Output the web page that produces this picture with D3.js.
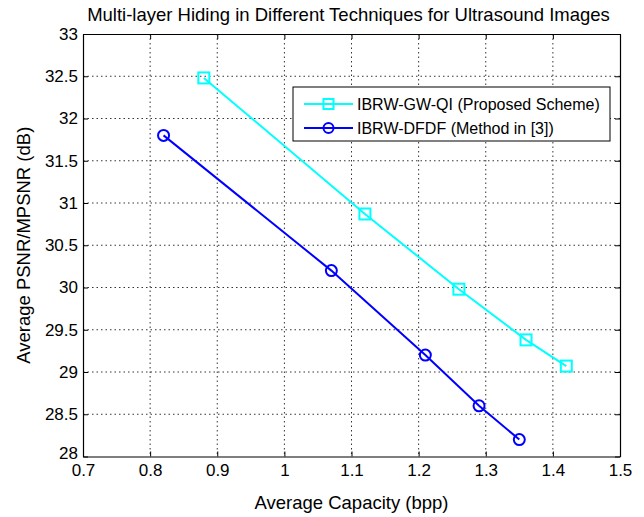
<!DOCTYPE html>
<html>
<head>
<meta charset="utf-8">
<script src="https://cdn.jsdelivr.net/npm/d3@7"></script>
<style>
  body { margin: 0; background: #fff; }
  text { font-family: "Liberation Sans", Arial, sans-serif; }
</style>
</head>
<body>
<div id="chart"></div>
<script>
var proposedX = [0.88, 1.12, 1.26, 1.36, 1.42];
var proposedY = [32.48, 30.87, 29.98, 29.38, 29.07];
var methodX = [0.82, 1.07, 1.21, 1.29, 1.35];
var methodY = [31.8, 30.2, 29.2, 28.6, 28.2];
var xTicks = [0.7, 0.8, 0.9, 1, 1.1, 1.2, 1.3, 1.4, 1.5];
var yTicks = [28, 28.5, 29, 29.5, 30, 30.5, 31, 31.5, 32, 32.5, 33];
var seriesNames = ["IBRW-GW-QI (Proposed Scheme)", "IBRW-DFDF (Method in [3])"];

var W = 644, H = 517;
var pLeft = 83, pRight = 620, pTop = 34, pBottom = 456.5;

var svg = d3.select("#chart").append("svg")
    .attr("width", W)
    .attr("height", H);

var x = d3.scaleLinear().domain([0.7, 1.5]).range([pLeft, pRight]);
var y = d3.scaleLinear().domain([28, 33]).range([pBottom, pTop]);

// dotted grid
svg.append("g").selectAll("line").data(xTicks.slice(1, -1)).enter().append("line")
    .attr("x1", function(d) { return x(d); })
    .attr("x2", function(d) { return x(d); })
    .attr("y1", pTop).attr("y2", pBottom)
    .attr("stroke", "#000").attr("stroke-width", 0.8)
    .attr("stroke-dasharray", "1.5,3");
svg.append("g").selectAll("line").data(yTicks.slice(1, -1)).enter().append("line")
    .attr("y1", function(d) { return y(d); })
    .attr("y2", function(d) { return y(d); })
    .attr("x1", pLeft).attr("x2", pRight)
    .attr("stroke", "#000").attr("stroke-width", 0.8)
    .attr("stroke-dasharray", "1.5,3");

var fmt = function(d) { return String(d); };

var xAxis = svg.append("g")
    .attr("transform", "translate(0," + pBottom + ")")
    .call(d3.axisBottom(x).tickValues(xTicks).tickFormat(fmt).tickSizeInner(-5).tickSizeOuter(0).tickPadding(7));
var xAxisTop = svg.append("g")
    .attr("transform", "translate(0," + pTop + ")")
    .call(d3.axisTop(x).tickValues(xTicks).tickFormat("").tickSizeInner(-5).tickSizeOuter(0));
var yAxis = svg.append("g")
    .attr("transform", "translate(" + pLeft + ",0)")
    .call(d3.axisLeft(y).tickValues(yTicks).tickFormat(fmt).tickSizeInner(-5).tickSizeOuter(0).tickPadding(5));
var yAxisRight = svg.append("g")
    .attr("transform", "translate(" + pRight + ",0)")
    .call(d3.axisRight(y).tickValues(yTicks).tickFormat("").tickSizeInner(-5).tickSizeOuter(0));

[xAxis, xAxisTop, yAxis, yAxisRight].forEach(function(a) {
    a.select(".domain").attr("stroke", "#000").attr("stroke-width", 1.2);
    a.selectAll(".tick line").attr("stroke", "#000");
    a.selectAll("text").attr("font-size", 17).attr("fill", "#000")
        .attr("font-family", "Liberation Sans, Arial, sans-serif");
});
// lowest y label sits a bit higher, like the reference
yAxis.selectAll(".tick text").filter(function(d) { return d === 28; }).attr("dy", "0.1em");

// titles
svg.append("text")
    .attr("x", (pLeft + pRight) / 2 - 3).attr("y", 21)
    .attr("text-anchor", "middle").attr("font-size", 18.5)
    .text("Multi-layer Hiding in Different Techniques for Ultrasound Images");
svg.append("text")
    .attr("x", (pLeft + pRight) / 2).attr("y", 509)
    .attr("text-anchor", "middle").attr("font-size", 18.5)
    .text("Average Capacity (bpp)");
svg.append("text")
    .attr("transform", "translate(30," + ((pTop + pBottom) / 2) + ") rotate(-90)")
    .attr("text-anchor", "middle").attr("font-size", 18.5)
    .text("Average PSNR/MPSNR (dB)");

var line = d3.line().x(function(d) { return x(d[0]); }).y(function(d) { return y(d[1]); });

function drawSeries(xs, ys, color, marker) {
    var pts = d3.zip(xs, ys);
    svg.append("path").datum(pts)
        .attr("d", line).attr("fill", "none")
        .attr("stroke", color).attr("stroke-width", 2);
    if (marker === "square") {
        svg.append("g").selectAll("rect").data(pts).enter().append("rect")
            .attr("x", function(d) { return x(d[0]) - 5.5; })
            .attr("y", function(d) { return y(d[1]) - 5.5; })
            .attr("width", 11).attr("height", 11)
            .attr("fill", "none").attr("stroke", color).attr("stroke-width", 2);
    } else {
        svg.append("g").selectAll("circle").data(pts).enter().append("circle")
            .attr("cx", function(d) { return x(d[0]); })
            .attr("cy", function(d) { return y(d[1]); })
            .attr("r", 5.5)
            .attr("fill", "none").attr("stroke", color).attr("stroke-width", 2);
    }
}

drawSeries(proposedX, proposedY, "#00ffff", "square");
drawSeries(methodX, methodY, "#0000ff", "circle");

// legend
var lg = svg.append("g");
lg.append("rect")
    .attr("x", 293).attr("y", 87).attr("width", 317).attr("height", 54)
    .attr("fill", "#fff").attr("stroke", "#000").attr("stroke-width", 1);
var legendItems = [
    { name: seriesNames[0], color: "#00ffff", marker: "square", cy: 104 },
    { name: seriesNames[1], color: "#0000ff", marker: "circle", cy: 128 }
];
legendItems.forEach(function(it) {
    lg.append("line")
        .attr("x1", 304).attr("x2", 353).attr("y1", it.cy).attr("y2", it.cy)
        .attr("stroke", it.color).attr("stroke-width", 2);
    if (it.marker === "square") {
        lg.append("rect").attr("x", 323.5).attr("y", it.cy - 5).attr("width", 10).attr("height", 10)
            .attr("fill", "none").attr("stroke", it.color).attr("stroke-width", 2);
    } else {
        lg.append("circle").attr("cx", 328.5).attr("cy", it.cy).attr("r", 5)
            .attr("fill", "none").attr("stroke", it.color).attr("stroke-width", 2);
    }
    lg.append("text").attr("x", 357).attr("y", it.cy + 6)
        .attr("font-size", 16).text(it.name);
});
</script>
</body>
</html>
